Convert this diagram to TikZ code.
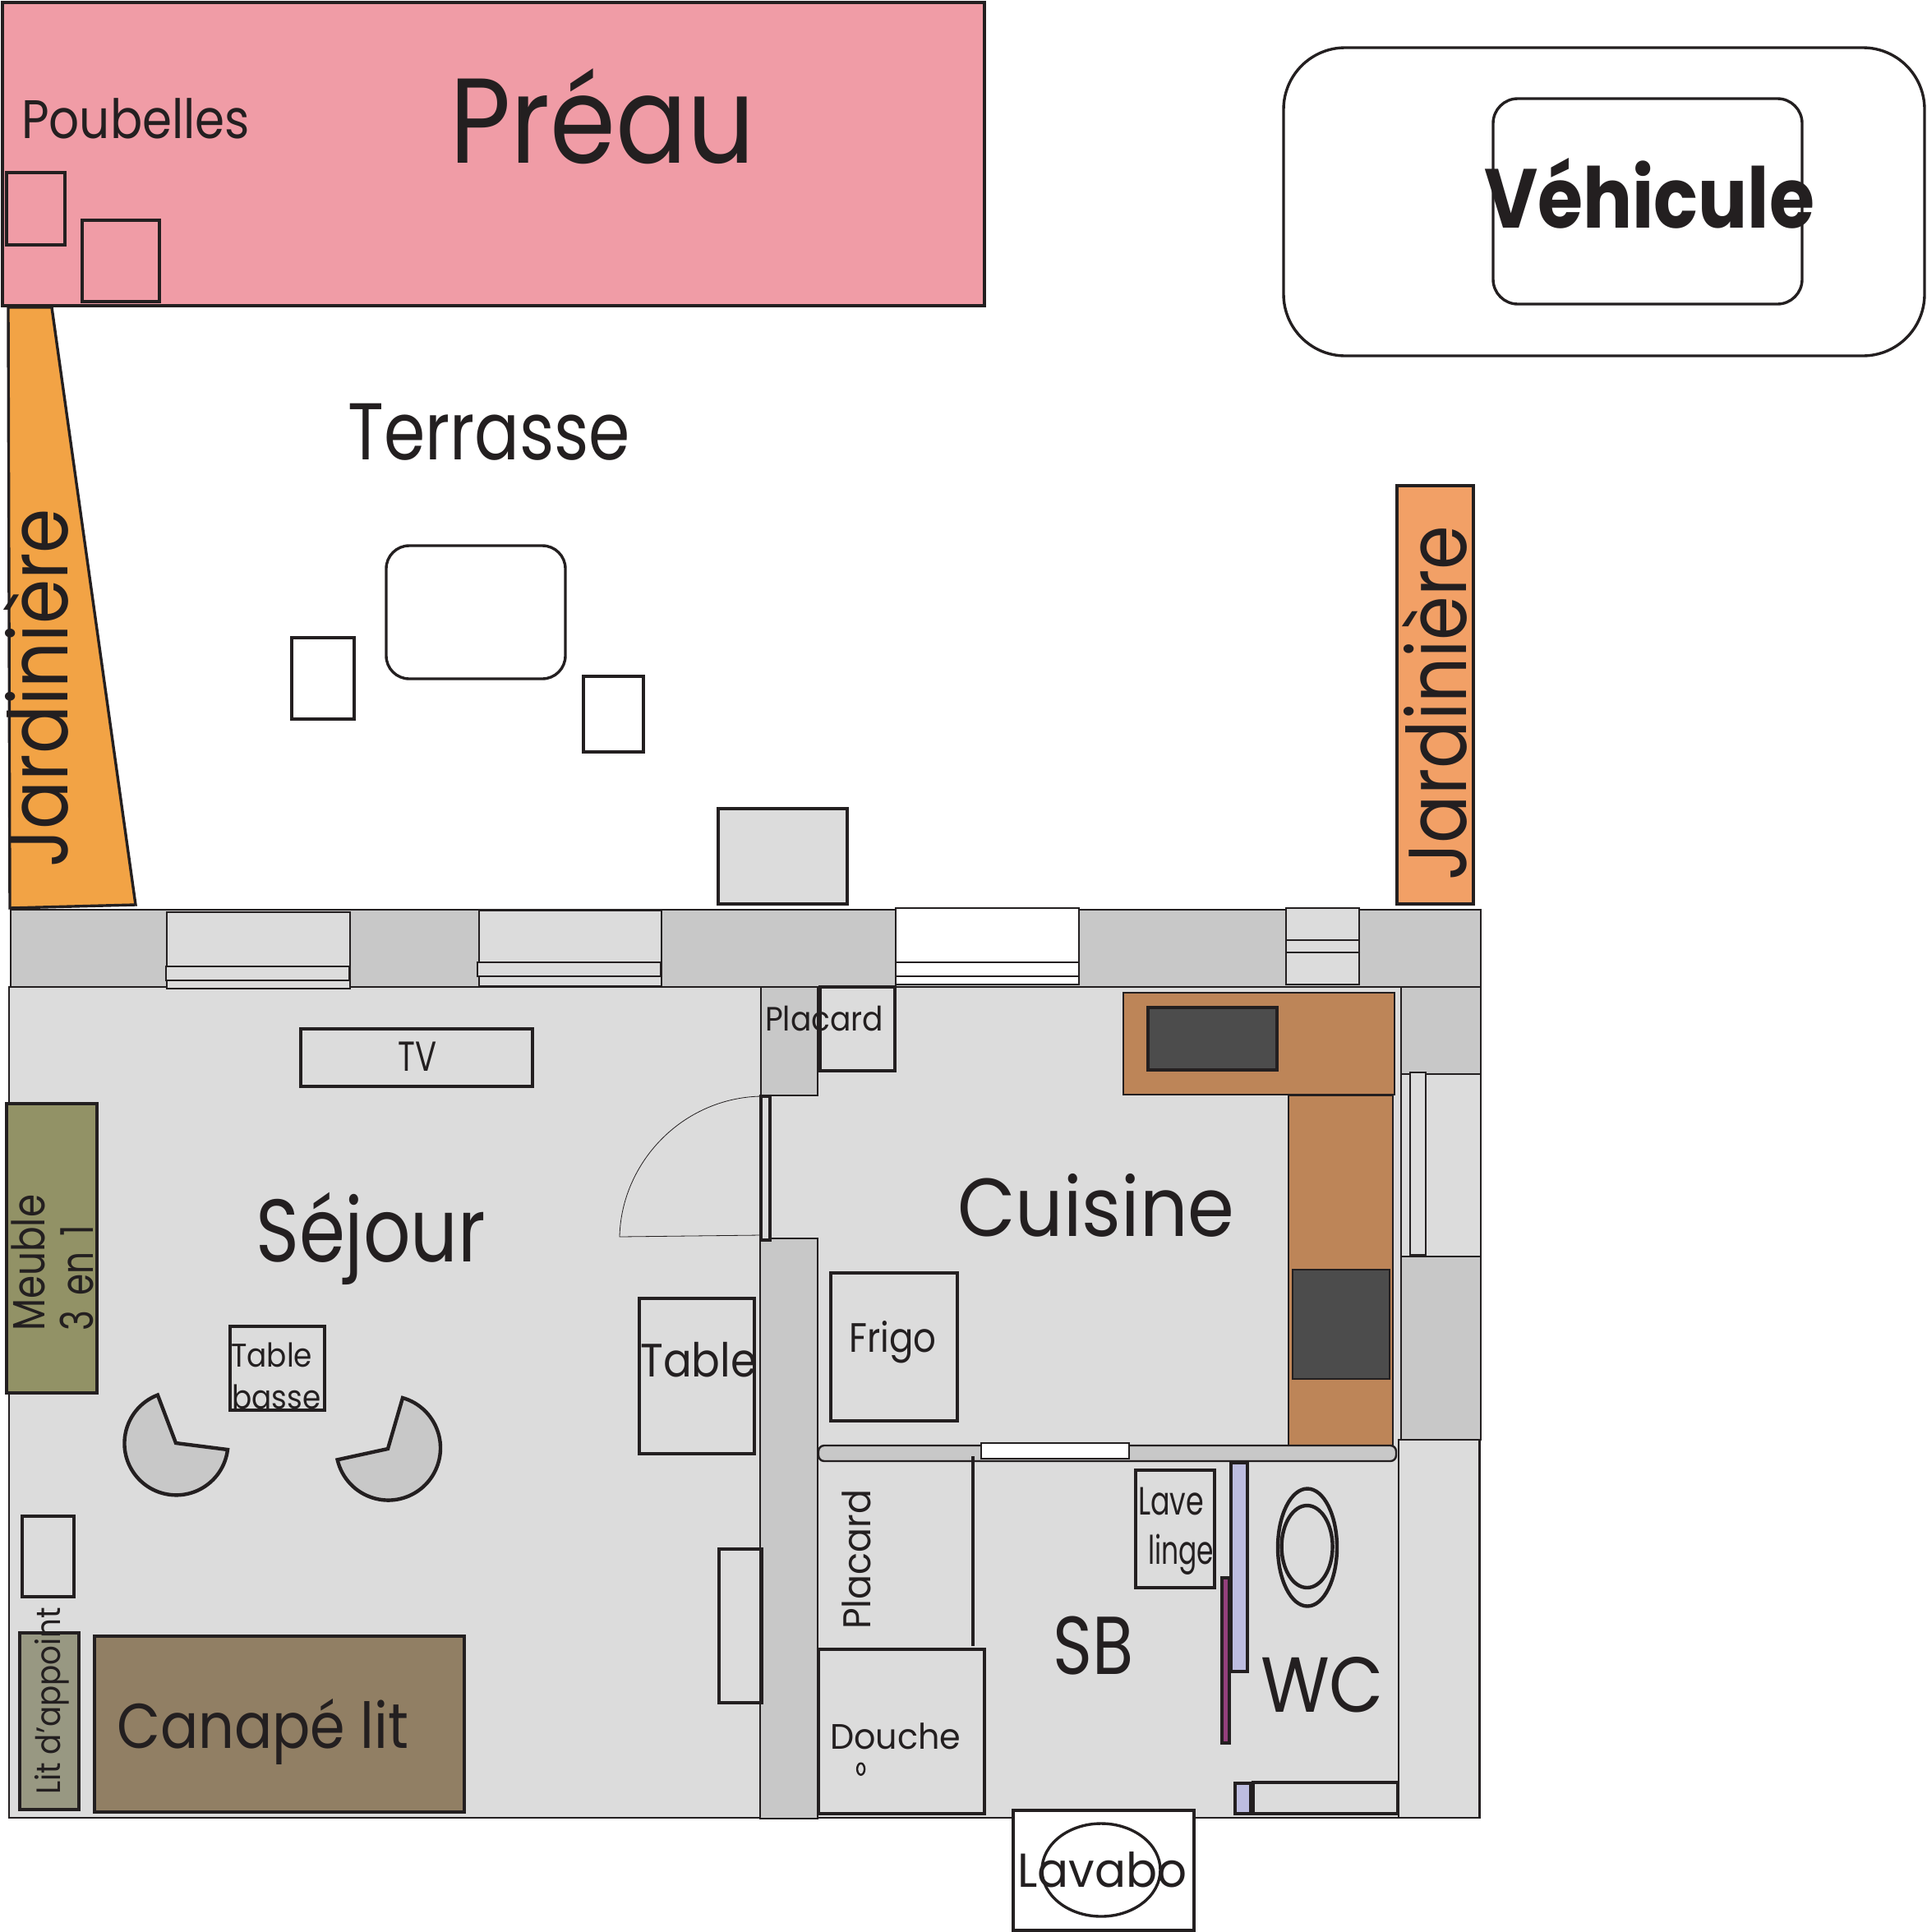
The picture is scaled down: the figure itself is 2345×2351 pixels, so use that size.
\documentclass[tikz,border=0pt]{standalone}
\usepackage{graphicx}
\usepackage{fontspec}
\setmainfont{Poppins}
\definecolor{ink}{HTML}{231F20}
\definecolor{floorc}{HTML}{DCDCDC}
\definecolor{wallc}{HTML}{C8C8C8}
\definecolor{pinkc}{HTML}{F09CA6}
\definecolor{jarda}{HTML}{F2A345}
\definecolor{jardb}{HTML}{F2A066}
\definecolor{olivec}{HTML}{929266}
\definecolor{litc}{HTML}{989882}
\definecolor{canac}{HTML}{917F64}
\definecolor{woodc}{HTML}{BD8558}
\definecolor{darkc}{HTML}{4C4C4C}
\definecolor{lilac}{HTML}{BDBDE0}
\definecolor{magc}{HTML}{93407C}
\newcommand\lbl[7]{\node[rotate=#6,anchor=base west,inner sep=0pt,text=ink] (#1) at (#2,#3) {\resizebox{#4pt}{\height}{\fontsize{#5pt}{#5pt}\selectfont #7}};}
\tikzset{
  x=1pt,y=-1pt,
  bold line/.style={draw=ink,line width=4.4pt},
  thin line/.style={draw=ink,line width=2.4pt},
  fine line/.style={draw=ink,line width=0.8pt},
  mid line/.style={draw=ink,line width=3.4pt},
}
\begin{document}
\begin{tikzpicture}
\useasboundingbox (0,0) rectangle (2345,2351);
% Preau
\draw[bold line,fill=pinkc] (3,3) rectangle (1198,372);
\draw[bold line] (8,210) rectangle (79,298);
\draw[bold line] (100,268) rectangle (194,367);
% jardinieres
\draw[mid line,fill=jarda] (10,374) -- (63,374) -- (165,1101) -- (12,1105) -- cycle;
\draw[bold line,fill=jardb] (1700,591) rectangle (1793,1100);
% vehicle
\draw[mid line,rounded corners=75pt] (1562,58) rectangle (2342,433);
\draw[mid line,rounded corners=30pt] (1817,120) rectangle (2193,370);
% terrace
\draw[mid line,rounded corners=28pt] (470,664) rectangle (688,826);
\draw[mid line] (355,776) rectangle (431,875);
\draw[mid line] (710,823) rectangle (783,915);
\draw[mid line,fill=floorc] (874,984) rectangle (1031,1100);
% wall band and floor
\draw[thin line,fill=wallc] (13,1107) rectangle (1802,1201);
\draw[thin line,fill=floorc] (11,1201) rectangle (1801,2212);
% windows
\draw[thin line,fill=floorc] (203,1110) rectangle (426,1203);
\draw[thin line,fill=floorc] (202,1176) rectangle (425,1193);
\draw[thin line,fill=floorc] (583,1108) rectangle (805,1200);
\draw[thin line,fill=floorc] (581,1171) rectangle (804,1188);
\draw[thin line,fill=white] (1090,1105) rectangle (1313,1198);
\draw[thin line,fill=white] (1090,1171) rectangle (1313,1188);
\draw[thin line,fill=floorc] (1565,1105) rectangle (1654,1198);
\draw[thin line,fill=floorc] (1565,1144) rectangle (1654,1159);
% inner walls
\draw[thin line,fill=wallc] (926,1201) rectangle (995,1333);
\draw[thin line,fill=wallc] (925,1507) rectangle (995,2213);
\draw[bold line,fill=floorc] (926,1334) rectangle (937,1509);
\draw[fine line] (926,1334) .. controls (830,1336) and (756,1415) .. (754,1505) -- (926,1503);
\draw[thin line,fill=wallc] (1705,1201) rectangle (1802,1752);
\draw[thin line,fill=floorc] (1705,1307) rectangle (1802,1529);
\draw[thin line,fill=floorc] (1716,1305) rectangle (1735,1527);
\draw[thin line,fill=floorc] (1702,1752) rectangle (1800,2212);
% Sejour furniture
\draw[bold line] (366,1252) rectangle (648,1322);
\draw[bold line,fill=olivec] (8,1343) rectangle (118,1695);
\draw[bold line] (280,1614) rectangle (395,1716);
\draw[bold line] (778,1580) rectangle (918,1769);
\draw[bold line,fill=wallc] (214,1756) -- (277,1764) arc[start angle=7,end angle=249,radius=63] -- cycle;
\draw[bold line,fill=wallc] (472,1763) -- (490,1701) arc[start angle=-74,end angle=167,radius=63.5] -- cycle;
\draw[bold line] (27,1845) rectangle (90,1943);
\draw[bold line,fill=litc] (24,1987) rectangle (96,2202);
\draw[bold line,fill=canac] (115,1991) rectangle (565,2205);
\draw[bold line] (875,1885) rectangle (927,2072);
% Kitchen
\draw[bold line] (998,1201) rectangle (1089,1303);
\draw[thin line,fill=woodc] (1367,1208) rectangle (1697,1332);
\draw[bold line,fill=darkc] (1397,1226) rectangle (1554,1302);
\draw[thin line,fill=woodc] (1568,1333) rectangle (1695,1760);
\draw[thin line,fill=darkc] (1573,1545) rectangle (1691,1678);
\draw[bold line] (1011,1549) rectangle (1165,1729);
% partition
\draw[thin line,fill=wallc,rounded corners=7pt] (996,1759) rectangle (1699,1778);
\draw[thin line,fill=white] (1194,1756) rectangle (1374,1775);
% bath
\draw[bold line] (1184,1772) -- (1184,2003);
\draw[bold line] (996,2007) rectangle (1198,2207);
\draw[thin line] (1047.6,2152.7) ellipse [x radius=4.5,y radius=7];
\draw[bold line] (1382,1789) rectangle (1478,1932);
\draw[bold line,fill=lilac] (1498,1780) rectangle (1518,2034);
\draw[bold line,fill=magc] (1487,1920) rectangle (1496,2121);
\draw[bold line] (1591,1883) ellipse [x radius=36,y radius=71.5];
\draw[bold line] (1590.6,1882) ellipse [x radius=31,y radius=50];
\draw[bold line,fill=lilac] (1503,2170) rectangle (1522,2207);
\draw[bold line] (1525,2169) rectangle (1701,2207);
\draw[bold line,fill=white] (1233,2203) rectangle (1453,2349);
\draw[mid line] (1340,2275.5) ellipse [x radius=72,y radius=56.5];
% labels
\lbl{preau}{547}{198}{372}{147}{0}{Préau}
\lbl{poubelles}{26}{168}{278}{66}{0}{Poubelles}
\lbl{terrasse}{423}{559}{344}{98}{0}{Terrasse}
\lbl{jard1}{82}{1056}{437}{100}{90}{Jardinière}
\lbl{jard2}{1784}{1072}{432}{100}{90}{Jardinière}
\lbl{vehicule}{1806}{277}{402}{102}{0}{\bfseries Véhicule}
\lbl{tv}{484}{1303}{47}{51}{0}{TV}
\lbl{sejour}{311}{1535}{280}{108}{0}{Séjour}
\lbl{meuble}{54}{1620}{166}{55}{90}{Meuble}
\lbl{troisen}{113}{1620}{129}{55}{90}{3\hspace{.18em} en\hspace{.18em} 1}
\lbl{tableb}{281}{1663}{99}{40}{0}{Table}
\lbl{basse}{282}{1714}{108}{40}{0}{basse}
\lbl{table}{779}{1675}{142}{57}{0}{Table}
\lbl{litapp}{73}{2184}{228}{41}{90}{Lit d’appoint}
\lbl{canape}{142}{2127}{355}{77}{0}{Canapé lit}
\lbl{placarda}{931}{1254}{144}{41}{0}{Placard}
\lbl{cuisine}{1165}{1504}{337}{100}{0}{Cuisine}
\lbl{frigo}{1033}{1645}{106}{50}{0}{Frigo}
\lbl{placardb}{1059}{1983}{170}{47}{90}{Placard}
\lbl{douche}{1010}{2128}{159}{43}{0}{Douche}
\lbl{lave}{1385}{1843}{80}{48}{0}{Lave}
\lbl{linge}{1397}{1903}{80}{48}{0}{linge}
\lbl{sb}{1281}{2037}{98}{100}{0}{SB}
\lbl{wc}{1534}{2083}{150}{95}{0}{WC}
\lbl{lavabo}{1238}{2296}{206}{58}{0}{Lavabo}
\end{tikzpicture}
\end{document}
